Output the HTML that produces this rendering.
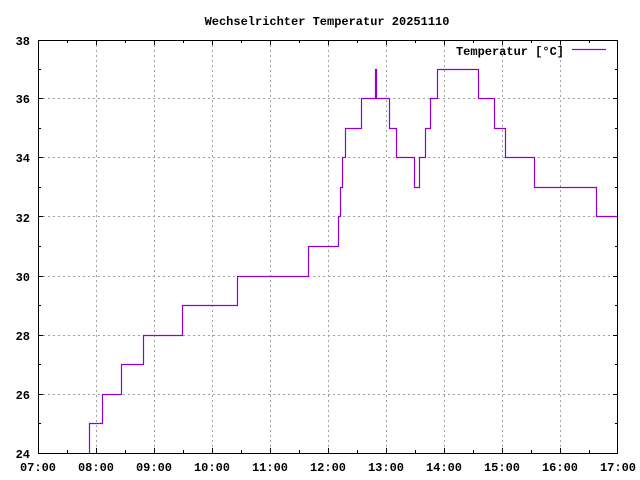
<!DOCTYPE html>
<html><head><style>body{margin:0;background:#fff}svg{display:block}text{font-family:"Liberation Mono",monospace;font-size:12px;font-weight:bold;fill:#000}</style></head><body>
<svg width="640" height="480" xmlns="http://www.w3.org/2000/svg">
<rect width="640" height="480" fill="#fff"/>
<text x="327" y="25" text-anchor="middle">Wechselrichter Temperatur 20251110</text>
<g stroke="#a0a0a0" stroke-dasharray="2,3" stroke-width="1">
<path d="M96.5,40V453M154.5,40V453M212.5,40V453M270.5,40V453M328.5,40V453M386.5,40V453M444.5,40V453M502.5,40V453M560.5,40V453"/>
<path d="M38,394.5H618M38,335.5H618M38,276.5H618M38,216.5H618M38,157.5H618M38,98.5H618"/>
</g>
<g stroke="#000" stroke-width="1">
<path d="M96.5,453v-5M154.5,453v-5M212.5,453v-5M270.5,453v-5M328.5,453v-5M386.5,453v-5M444.5,453v-5M502.5,453v-5M560.5,453v-5M96.5,40v5M154.5,40v5M212.5,40v5M270.5,40v5M328.5,40v5M386.5,40v5M444.5,40v5M502.5,40v5M560.5,40v5"/>
<path d="M67.5,453v-3M125.5,453v-3M183.5,453v-3M241.5,453v-3M299.5,453v-3M357.5,453v-3M415.5,453v-3M473.5,453v-3M531.5,453v-3M589.5,453v-3M67.5,40v3M125.5,40v3M183.5,40v3M241.5,40v3M299.5,40v3M357.5,40v3M415.5,40v3M473.5,40v3M531.5,40v3M589.5,40v3"/>
<path d="M38,394.5h5M38,335.5h5M38,276.5h5M38,216.5h5M38,157.5h5M38,98.5h5M618,394.5h-5M618,335.5h-5M618,276.5h-5M618,216.5h-5M618,157.5h-5M618,98.5h-5"/>
<path d="M38,423.5h3M38,364.5h3M38,305.5h3M38,246.5h3M38,187.5h3M38,128.5h3M38,69.5h3M618,423.5h-3M618,364.5h-3M618,305.5h-3M618,246.5h-3M618,187.5h-3M618,128.5h-3M618,69.5h-3"/>
<rect x="38.5" y="40.5" width="579" height="413" fill="none"/>
</g>
<g text-anchor="end">
<text x="30" y="458">24</text><text x="30" y="399">26</text><text x="30" y="340">28</text><text x="30" y="281">30</text><text x="30" y="222">32</text><text x="30" y="162">34</text><text x="30" y="103">36</text><text x="30" y="45">38</text>
</g>
<g text-anchor="middle">
<text x="38" y="471">07:00</text><text x="96" y="471">08:00</text><text x="154" y="471">09:00</text><text x="212" y="471">10:00</text><text x="270" y="471">11:00</text><text x="328" y="471">12:00</text><text x="386" y="471">13:00</text><text x="444" y="471">14:00</text><text x="502" y="471">15:00</text><text x="560" y="471">16:00</text><text x="618" y="471">17:00</text>
</g>
<text x="564" y="55" text-anchor="end">Temperatur [°C]</text>
<path d="M572,49.5h34" stroke="#9400d3" stroke-width="1.2"/>
<path fill="none" stroke="#9400d3" stroke-width="1.2" d="M89.5,453V423.5H102.5V394.5H121.5V364.5H143.5V335.5H182.5V305.5H237.5V276.5H308.5V246.5H338.5V216.5H340.5V187.5H342.5V157.5H345.5V128.5H361.5V98.5H375.5V69.5H376.5V98.5H389.5V128.5H396.5V157.5H414.5V187.5H419.5V157.5H425.5V128.5H430.5V98.5H437.5V69.5H478.5V98.5H494.5V128.5H505.5V157.5H534.5V187.5H596.5V216.5H617"/>
</svg>
</body></html>
